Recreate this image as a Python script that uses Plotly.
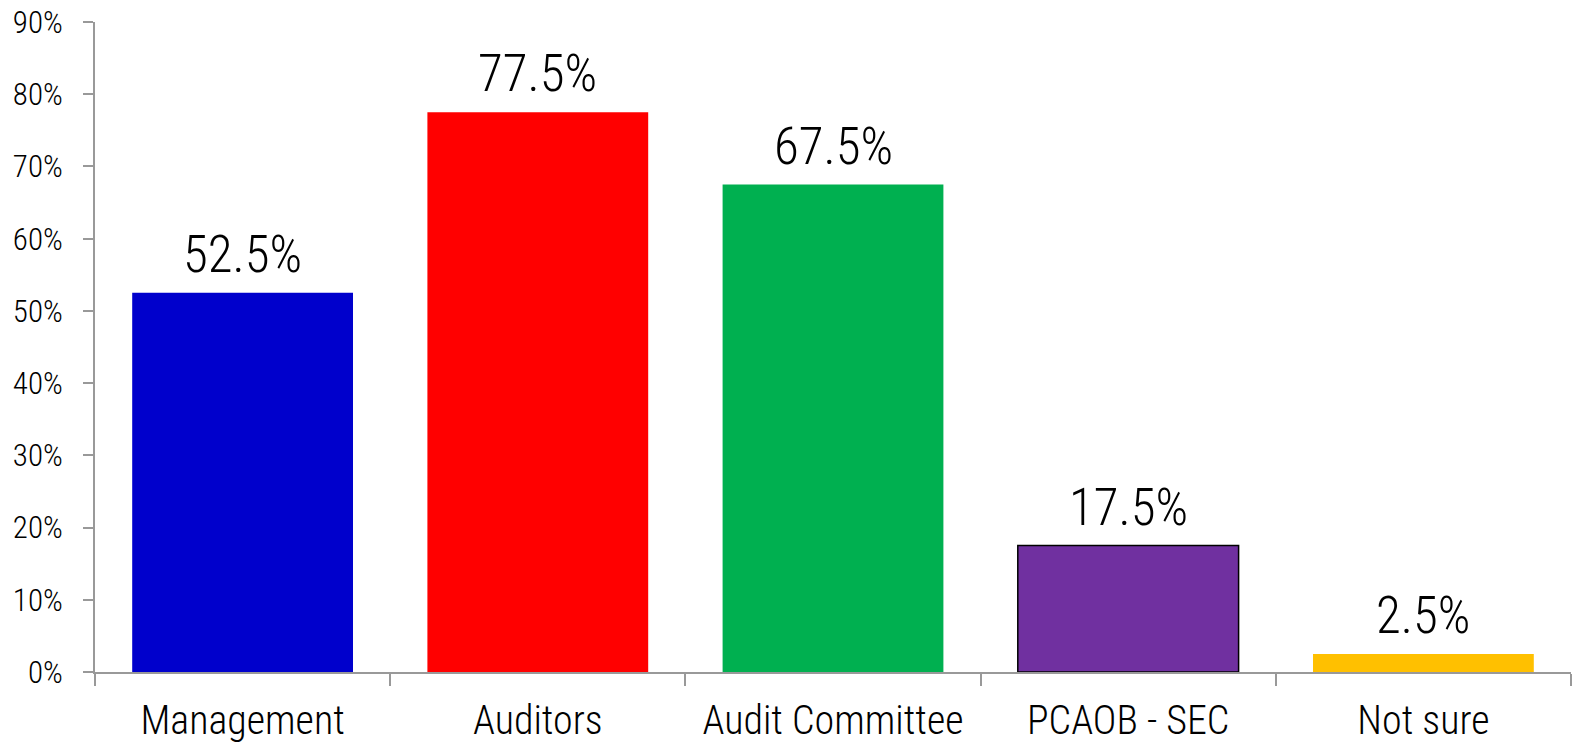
import plotly.graph_objects as go

categories = ["Management", "Auditors", "Audit Committee", "PCAOB - SEC", "Not sure"]
values = [52.5, 77.5, 67.5, 17.5, 2.5]
labels = ["52.5%", "77.5%", "67.5%", "17.5%", "2.5%"]
colors = ["#0000CC", "#FF0000", "#00B050", "#7030A0", "#FFC000"]
outline_widths = [0, 0, 0, 1.5, 0]
y_ticks = [0, 10, 20, 30, 40, 50, 60, 70, 80, 90]
y_tick_labels = [f"{v}%" for v in y_ticks]

FONT = "Roboto Condensed, Arial Narrow, sans-serif"

fig = go.Figure()
fig.add_trace(go.Bar(
    x=categories, y=values,
    marker=dict(color=colors, line=dict(color="#000000", width=outline_widths)),
    hoverinfo="skip",
))

for c, v, t in zip(categories, values, labels):
    fig.add_annotation(x=c, y=v, text=t, showarrow=False, yanchor="bottom",
                       yshift=7, font=dict(family=FONT, size=51, color="#000000", weight=300))

fig.update_layout(
    width=1577, height=746,
    margin=dict(l=95, r=6, t=22, b=74),
    paper_bgcolor="white", plot_bgcolor="white",
    bargap=0.252, showlegend=False,
    font=dict(family=FONT, color="#000000", weight=300),
)
fig.update_xaxes(
    showline=True, linecolor="#999999", linewidth=2,
    ticks="outside", tickson="boundaries", ticklen=12, tickwidth=2, tickcolor="#999999",
    tickfont=dict(family=FONT, size=40, color="#000000", weight=300),
    tickangle=0, automargin=False, ticklabelstandoff=12,
    showgrid=False,
)
fig.update_yaxes(
    range=[0, 90], tickvals=y_ticks, ticktext=y_tick_labels,
    showline=True, linecolor="#999999", linewidth=2,
    ticks="outside", ticklen=10, tickwidth=2, tickcolor="#999999",
    tickfont=dict(family=FONT, size=31, color="#000000", weight=300),
    automargin=False, ticklabelstandoff=14, ticklabeloverflow="allow",
    showgrid=False, zeroline=False,
)

fig.write_html("out.html", config={"displayModeBar": False},
               post_script="document.body.style.margin='0';")
